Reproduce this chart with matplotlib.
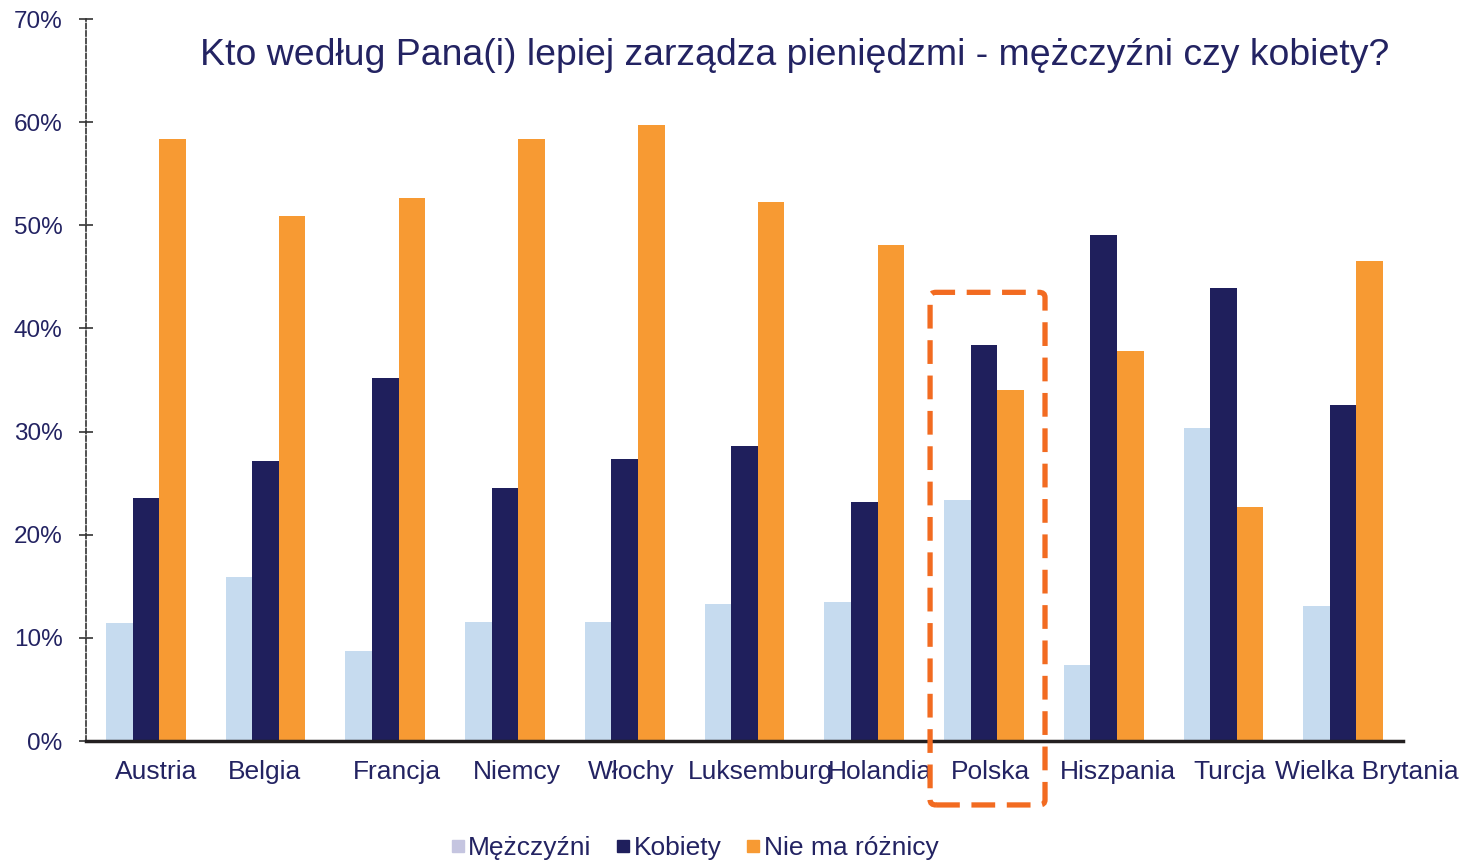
import matplotlib.pyplot as plt
import matplotlib.transforms as mtransforms
import numpy as np
from matplotlib.patches import FancyBboxPatch
from matplotlib.lines import Line2D

plt.rcParams['font.family'] = ['Liberation Sans', 'DejaVu Sans']

countries = ['Austria', 'Belgia', 'Francja', 'Niemcy', 'Włochy', 'Luksemburg',
             'Holandia', 'Polska', 'Hiszpania', 'Turcja', 'Wielka Brytania']
mezczyzni = [11.4, 15.9, 8.7, 11.5, 11.5, 13.3, 13.5, 23.4, 7.4, 30.3, 13.1]
kobiety = [23.6, 27.1, 35.2, 24.5, 27.3, 28.6, 23.2, 38.4, 49.1, 43.9, 32.6]
brak_roznicy = [58.4, 50.9, 52.6, 58.4, 59.7, 52.3, 48.1, 34.0, 37.8, 22.7, 46.5]
series_labels = ['Mężczyźni', 'Kobiety', 'Nie ma różnicy']

navy = '#1F1F5C'
text_col = '#232362'
light = '#C6DBEF'
orange = '#F79A33'
legend_light = '#C5C5E0'

fig = plt.figure(figsize=(14.63, 8.61), dpi=100)
ax = fig.add_axes([86 / 1463, 1 - 741 / 861, (1403 - 86) / 1463, (741 - 19) / 861])

x = np.arange(len(countries))
w = 0.222
ax.bar(x - w, mezczyzni, w, color=light)
ax.bar(x, kobiety, w, color=navy)
ax.bar(x + w, brak_roznicy, w, color=orange)

ax.set_xlim(-0.5, len(countries) - 0.5)
ax.set_ylim(0, 70)
ax.set_yticks(np.arange(0, 71, 10))
ax.set_yticklabels([f'{v}%' for v in range(0, 71, 10)])
ax.set_xticks(x)
ax.set_xticklabels(countries)
ax.tick_params(axis='y', direction='inout', length=10, width=1.2, color='#333333',
               labelsize=17.5, labelcolor=text_col, pad=12)
ax.tick_params(axis='x', length=0, labelsize=19, labelcolor=text_col, pad=13.5)

# labels sit slightly right of the group centres, like in the original slide
shifts = [10, -1, 12, 12, 6, 16, 16, 7, 14, 6, 24]
for lab, dx in zip(ax.get_xticklabels(), shifts):
    lab.set_transform(lab.get_transform() +
                      mtransforms.ScaledTranslation(dx / 100, 0, fig.dpi_scale_trans))

for s in ['top', 'right']:
    ax.spines[s].set_visible(False)
ax.spines['left'].set_linestyle((0, (3, 1.5)))
ax.spines['left'].set_color('#333333')
ax.spines['left'].set_linewidth(1.2)
ax.spines['bottom'].set_color('#231F20')
ax.spines['bottom'].set_linewidth(2.5)

fig.text(0.137, 0.936, 'Kto według Pana(i) lepiej zarządza pieniędzmi - mężczyźni czy kobiety?',
         fontsize=26.9, color=text_col, ha='left', va='center')

# highlight around Polska
box = FancyBboxPatch((6.55, -6.2), 0.96, 49.7,
                     boxstyle='round,pad=0,rounding_size=0.05',
                     transform=ax.transData, clip_on=False, fill=False,
                     edgecolor='#F26B21', linewidth=3.8,
                     linestyle=(0, (4.5, 2.2)), zorder=5, mutation_aspect=10)
ax.add_patch(box)

handles = [Line2D([], [], marker='s', linestyle='', markersize=9, color=c)
           for c in [legend_light, navy, orange]]
fig.legend(handles, series_labels, loc='center', bbox_to_anchor=(0.475, 0.015),
           ncol=3, frameon=False, fontsize=19, handlelength=0.5,
           handletextpad=0.15, columnspacing=0.95, labelcolor=text_col)

fig.savefig('out.png', dpi=100)
